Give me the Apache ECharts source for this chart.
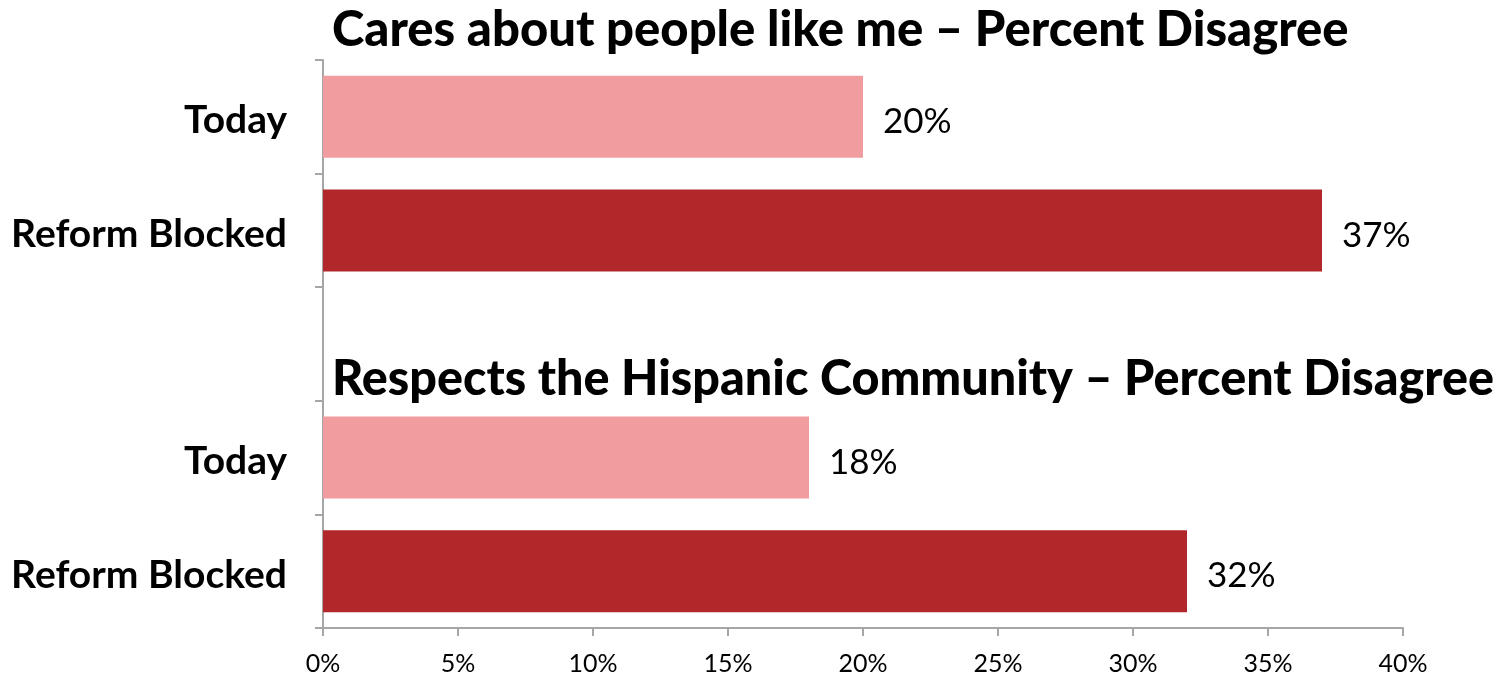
<!DOCTYPE html>
<html><head><meta charset="utf-8">
<script src="https://cdn.jsdelivr.net/npm/echarts@6/dist/echarts.min.js"></script>
<style>html,body{margin:0;padding:0;background:#fff}#c{width:1503px;height:676px}</style>
</head><body><div id="c"></div>
<script>
// top-to-bottom order
const categories = ['Today', 'Reform Blocked', '', 'Today', 'Reform Blocked'];
const values = [20, 37, null, 18, 32];
const titles = ['Cares about people like me \u2013 Percent Disagree', 'Respects the Hispanic Community \u2013 Percent Disagree'];
const xTicks = [0, 5, 10, 15, 20, 25, 30, 35, 40];

const colorFor = {'Today': '#F19C9F', 'Reform Blocked': '#B2282A'};
const chart = echarts.init(document.getElementById('c'));
chart.setOption({
  animation: false,
  title: [
    {text: titles[0], left: 327, top: 1, textStyle: {fontFamily: 'Lato', fontWeight: 900, fontSize: 49, color: '#000'}},
    {text: titles[1], left: 327, top: 350, textStyle: {fontFamily: 'Lato', fontWeight: 900, fontSize: 48.5, color: '#000'}}
  ],
  grid: {left: 323, right: 100, top: 60, bottom: 46},
  xAxis: {
    type: 'value', min: xTicks[0], max: xTicks[xTicks.length - 1], interval: xTicks[1] - xTicks[0],
    splitLine: {show: false},
    axisLine: {show: true, lineStyle: {color: '#A6A6A6', width: 2}},
    axisTick: {show: true, length: 8, lineStyle: {color: '#A6A6A6', width: 2}},
    axisLabel: {margin: 23, fontFamily: 'Lato', fontSize: 25, color: '#000', formatter: v => v + '%'}
  },
  yAxis: {
    type: 'category', inverse: true, data: categories,
    axisLine: {show: true, lineStyle: {color: '#A6A6A6', width: 2}},
    axisTick: {show: true, length: 8, lineStyle: {color: '#A6A6A6', width: 2}},
    axisLabel: {margin: 36, fontFamily: 'Lato', fontWeight: 'bold', fontSize: 39, color: '#000', verticalAlign: 'top', lineHeight: 8}
  },
  series: [{
    type: 'bar', barWidth: 82,
    data: values.map((v, i) => ({value: v, itemStyle: {color: colorFor[categories[i]] || '#000'}})),
    label: {show: true, position: 'right', distance: 20, offset: [0, 5], fontFamily: 'Lato', fontSize: 35, color: '#000',
      formatter: p => p.value == null ? '' : p.value + '%'}
  }]
});
</script></body></html>
